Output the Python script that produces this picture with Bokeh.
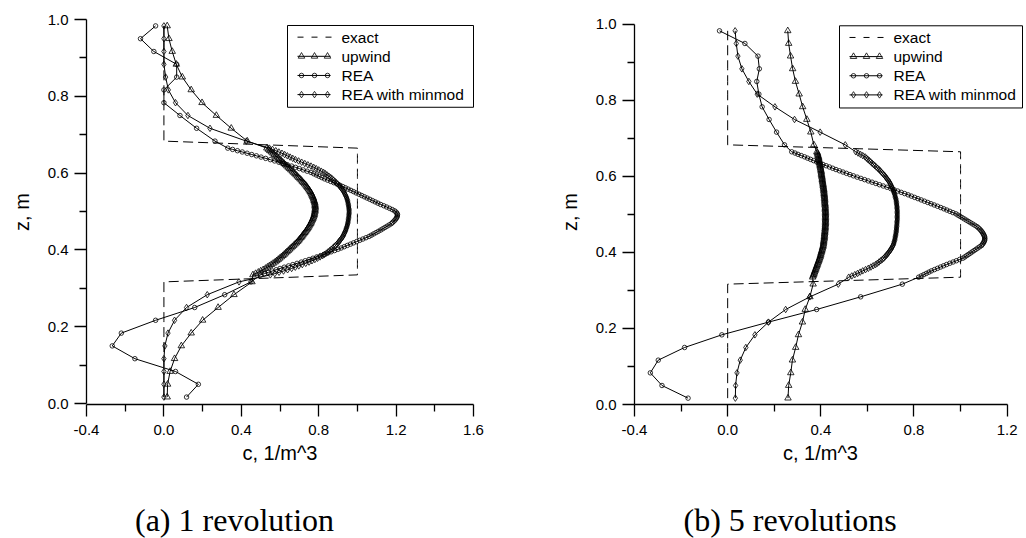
from bokeh.plotting import figure
from bokeh.models import Range1d, FixedTicker, PrintfTickFormatter, Label, Title
from bokeh.layouts import row
from bokeh.embed import file_html
from bokeh.resources import INLINE

# Cell-centre heights (m): coarse cells, refined middle third, coarse cells
z_levels = [
    0.0167, 0.0500, 0.0833, 0.1167, 0.1500, 0.1833, 0.2167, 0.2500, 0.2833, 0.3167,
    0.3350, 0.3383, 0.3417, 0.3450, 0.3483, 0.3517, 0.3550, 0.3583, 0.3617, 0.3650,
    0.3683, 0.3717, 0.3750, 0.3783, 0.3817, 0.3850, 0.3883, 0.3917, 0.3950, 0.3983,
    0.4017, 0.4050, 0.4083, 0.4117, 0.4150, 0.4183, 0.4217, 0.4250, 0.4283, 0.4317,
    0.4350, 0.4383, 0.4417, 0.4450, 0.4483, 0.4517, 0.4550, 0.4583, 0.4617, 0.4650,
    0.4683, 0.4717, 0.4750, 0.4783, 0.4817, 0.4850, 0.4883, 0.4917, 0.4950, 0.4983,
    0.5017, 0.5050, 0.5083, 0.5117, 0.5150, 0.5183, 0.5217, 0.5250, 0.5283, 0.5317,
    0.5350, 0.5383, 0.5417, 0.5450, 0.5483, 0.5517, 0.5550, 0.5583, 0.5617, 0.5650,
    0.5683, 0.5717, 0.5750, 0.5783, 0.5817, 0.5850, 0.5883, 0.5917, 0.5950, 0.5983,
    0.6017, 0.6050, 0.6083, 0.6117, 0.6150, 0.6183, 0.6217, 0.6250, 0.6283, 0.6317,
    0.6350, 0.6383, 0.6417, 0.6450, 0.6483, 0.6517, 0.6550, 0.6583, 0.6617, 0.6650,
    0.6833, 0.7167, 0.7500, 0.7833, 0.8167, 0.8500, 0.8833, 0.9167, 0.9500, 0.9833,
]

# Exact square pulse (1/m^3)
exact = [
    0, 0, 0, 0, 0, 0, 0, 0, 0, 0,
    1, 1, 1, 1, 1, 1, 1, 1, 1, 1,
    1, 1, 1, 1, 1, 1, 1, 1, 1, 1,
    1, 1, 1, 1, 1, 1, 1, 1, 1, 1,
    1, 1, 1, 1, 1, 1, 1, 1, 1, 1,
    1, 1, 1, 1, 1, 1, 1, 1, 1, 1,
    1, 1, 1, 1, 1, 1, 1, 1, 1, 1,
    1, 1, 1, 1, 1, 1, 1, 1, 1, 1,
    1, 1, 1, 1, 1, 1, 1, 1, 1, 1,
    1, 1, 1, 1, 1, 1, 1, 1, 1, 1,
    1, 1, 1, 1, 1, 1, 1, 1, 1, 1,
    0, 0, 0, 0, 0, 0, 0, 0, 0, 0,
]

# (a) after 1 revolution
rev1_upwind = [
    0.017, 0.019, 0.032, 0.055, 0.090, 0.141, 0.200, 0.280, 0.362, 0.455,
    0.460, 0.474, 0.488, 0.500, 0.513, 0.525, 0.535, 0.545, 0.555, 0.565,
    0.575, 0.583, 0.591, 0.599, 0.607, 0.615, 0.622, 0.629, 0.636, 0.643,
    0.650, 0.657, 0.664, 0.671, 0.678, 0.685, 0.691, 0.697, 0.702, 0.708,
    0.713, 0.718, 0.723, 0.728, 0.733, 0.738, 0.742, 0.746, 0.750, 0.754,
    0.758, 0.761, 0.764, 0.767, 0.770, 0.773, 0.775, 0.777, 0.778, 0.780,
    0.781, 0.781, 0.782, 0.782, 0.781, 0.781, 0.780, 0.778, 0.776, 0.774,
    0.772, 0.769, 0.766, 0.763, 0.760, 0.756, 0.752, 0.747, 0.742, 0.738,
    0.733, 0.727, 0.721, 0.715, 0.709, 0.703, 0.696, 0.690, 0.683, 0.677,
    0.670, 0.663, 0.656, 0.649, 0.642, 0.635, 0.628, 0.621, 0.614, 0.607,
    0.600, 0.593, 0.585, 0.578, 0.570, 0.563, 0.555, 0.547, 0.540, 0.532,
    0.431, 0.348, 0.271, 0.197, 0.141, 0.095, 0.064, 0.043, 0.026, 0.017,
]
rev1_rea = [
    0.117, 0.178, 0.060, -0.150, -0.267, -0.220, -0.043, 0.159, 0.314, 0.450,
    0.500, 0.520, 0.540, 0.560, 0.580, 0.600, 0.622, 0.644, 0.666, 0.688,
    0.710, 0.730, 0.750, 0.770, 0.790, 0.810, 0.828, 0.846, 0.864, 0.882,
    0.900, 0.916, 0.932, 0.948, 0.964, 0.980, 0.996, 1.012, 1.028, 1.044,
    1.060, 1.072, 1.084, 1.096, 1.108, 1.120, 1.131, 1.142, 1.153, 1.164,
    1.175, 1.182, 1.189, 1.195, 1.200, 1.204, 1.206, 1.207, 1.205, 1.200,
    1.192, 1.180, 1.166, 1.151, 1.136, 1.120, 1.106, 1.092, 1.078, 1.064,
    1.050, 1.036, 1.022, 1.008, 0.994, 0.980, 0.966, 0.952, 0.938, 0.924,
    0.910, 0.894, 0.878, 0.862, 0.846, 0.830, 0.816, 0.802, 0.788, 0.774,
    0.760, 0.740, 0.720, 0.700, 0.680, 0.660, 0.638, 0.616, 0.594, 0.572,
    0.550, 0.526, 0.502, 0.478, 0.454, 0.430, 0.405, 0.380, 0.355, 0.330,
    0.264, 0.169, 0.083, 0.000, 0.000, 0.066, 0.066, -0.052, -0.121, -0.043,
]
rev1_minmod = [
    0.000, 0.000, 0.000, 0.000, 0.005, 0.021, 0.055, 0.117, 0.224, 0.388,
    0.550, 0.573, 0.595, 0.618, 0.639, 0.660, 0.679, 0.697, 0.715, 0.733,
    0.750, 0.765, 0.780, 0.794, 0.807, 0.820, 0.830, 0.840, 0.849, 0.857,
    0.865, 0.873, 0.880, 0.887, 0.894, 0.900, 0.905, 0.910, 0.915, 0.920,
    0.925, 0.928, 0.931, 0.934, 0.937, 0.940, 0.942, 0.944, 0.946, 0.948,
    0.950, 0.951, 0.952, 0.953, 0.954, 0.955, 0.956, 0.956, 0.957, 0.957,
    0.957, 0.957, 0.956, 0.955, 0.954, 0.953, 0.952, 0.950, 0.949, 0.947,
    0.945, 0.942, 0.939, 0.936, 0.933, 0.930, 0.925, 0.920, 0.915, 0.910,
    0.905, 0.898, 0.891, 0.884, 0.877, 0.870, 0.862, 0.853, 0.844, 0.835,
    0.825, 0.813, 0.800, 0.787, 0.774, 0.760, 0.744, 0.728, 0.712, 0.696,
    0.680, 0.666, 0.652, 0.638, 0.624, 0.610, 0.594, 0.578, 0.561, 0.545,
    0.426, 0.238, 0.124, 0.060, 0.023, 0.009, 0.000, 0.000, 0.000, 0.000,
]

# (b) after 5 revolutions
rev5_upwind = [
    0.259, 0.262, 0.271, 0.278, 0.292, 0.304, 0.321, 0.333, 0.353, 0.367,
    0.365, 0.367, 0.369, 0.371, 0.373, 0.375, 0.377, 0.379, 0.381, 0.383,
    0.385, 0.387, 0.389, 0.391, 0.393, 0.395, 0.397, 0.398, 0.400, 0.401,
    0.403, 0.404, 0.406, 0.407, 0.409, 0.410, 0.411, 0.412, 0.412, 0.413,
    0.414, 0.415, 0.415, 0.416, 0.416, 0.417, 0.417, 0.418, 0.418, 0.419,
    0.419, 0.419, 0.420, 0.420, 0.420, 0.420, 0.420, 0.420, 0.420, 0.420,
    0.420, 0.420, 0.420, 0.419, 0.419, 0.419, 0.419, 0.418, 0.418, 0.417,
    0.417, 0.417, 0.416, 0.416, 0.415, 0.415, 0.414, 0.414, 0.413, 0.413,
    0.412, 0.411, 0.410, 0.410, 0.409, 0.408, 0.407, 0.406, 0.406, 0.405,
    0.404, 0.403, 0.402, 0.402, 0.401, 0.400, 0.399, 0.398, 0.397, 0.396,
    0.395, 0.394, 0.393, 0.392, 0.391, 0.390, 0.388, 0.387, 0.385, 0.383,
    0.370, 0.357, 0.340, 0.322, 0.307, 0.291, 0.279, 0.270, 0.262, 0.258,
]
rev5_rea = [
    -0.170, -0.282, -0.332, -0.298, -0.185, -0.025, 0.175, 0.382, 0.571, 0.750,
    0.820, 0.831, 0.842, 0.853, 0.864, 0.875, 0.888, 0.901, 0.914, 0.927,
    0.940, 0.954, 0.968, 0.982, 0.996, 1.010, 1.018, 1.026, 1.034, 1.042,
    1.050, 1.058, 1.066, 1.074, 1.082, 1.090, 1.094, 1.098, 1.101, 1.103,
    1.104, 1.104, 1.103, 1.101, 1.098, 1.095, 1.091, 1.087, 1.082, 1.076,
    1.070, 1.061, 1.052, 1.043, 1.034, 1.025, 1.016, 1.007, 0.998, 0.989,
    0.980, 0.967, 0.954, 0.941, 0.928, 0.915, 0.901, 0.887, 0.873, 0.859,
    0.845, 0.831, 0.817, 0.803, 0.789, 0.775, 0.760, 0.745, 0.730, 0.715,
    0.700, 0.684, 0.668, 0.652, 0.636, 0.620, 0.604, 0.588, 0.572, 0.556,
    0.540, 0.525, 0.510, 0.495, 0.480, 0.465, 0.451, 0.437, 0.423, 0.409,
    0.395, 0.382, 0.369, 0.356, 0.343, 0.330, 0.316, 0.302, 0.289, 0.275,
    0.244, 0.210, 0.178, 0.148, 0.134, 0.125, 0.136, 0.130, 0.074, -0.035,
]
rev5_minmod = [
    0.033, 0.034, 0.040, 0.054, 0.078, 0.117, 0.175, 0.249, 0.353, 0.475,
    0.520, 0.533, 0.546, 0.558, 0.569, 0.580, 0.592, 0.604, 0.615, 0.625,
    0.635, 0.643, 0.650, 0.657, 0.664, 0.670, 0.675, 0.680, 0.685, 0.689,
    0.693, 0.697, 0.701, 0.704, 0.707, 0.710, 0.712, 0.714, 0.715, 0.717,
    0.718, 0.719, 0.720, 0.721, 0.722, 0.723, 0.724, 0.724, 0.725, 0.725,
    0.726, 0.726, 0.727, 0.727, 0.727, 0.728, 0.728, 0.728, 0.728, 0.728,
    0.728, 0.728, 0.728, 0.728, 0.727, 0.727, 0.727, 0.726, 0.725, 0.725,
    0.724, 0.723, 0.722, 0.720, 0.719, 0.718, 0.716, 0.714, 0.712, 0.710,
    0.708, 0.706, 0.703, 0.700, 0.698, 0.695, 0.691, 0.687, 0.683, 0.679,
    0.675, 0.670, 0.665, 0.660, 0.655, 0.650, 0.644, 0.638, 0.632, 0.626,
    0.620, 0.614, 0.608, 0.602, 0.596, 0.590, 0.580, 0.570, 0.560, 0.550,
    0.505, 0.397, 0.287, 0.203, 0.127, 0.091, 0.061, 0.044, 0.037, 0.032,
]

series_names = ["exact", "upwind", "REA", "REA with minmod"]
x_ticks_a = [-0.4, 0.0, 0.4, 0.8, 1.2, 1.6]
x_minor_a = [-0.2, 0.2, 0.6, 1.0, 1.4]
x_ticks_b = [-0.4, 0.0, 0.4, 0.8, 1.2]
x_minor_b = [-0.2, 0.2, 0.6, 1.0]
y_ticks = [0.0, 0.2, 0.4, 0.6, 0.8, 1.0]
y_minor = [0.1, 0.3, 0.5, 0.7, 0.9]
x_title = "c, 1/m^3"
y_title = "z, m"

SANS = "Liberation Sans"
SERIF = "Liberation Serif"
FIG_W, FIG_H = 513, 538
FRAME_TOP, FRAME_H = 19, 386      # both panels share the same frame box
MARKERS = [("triangle", 6.5), ("circle", 4.5), ("diamond", 6.5)]


def make_panel(upwind, rea, minmod, x_ticks, x_minor, x_end, y_start, y_end,
               frame_left, frame_w, legend_box, xlabel_offset, caption, caption_offset):
    p = figure(width=FIG_W, height=FIG_H,
               x_range=Range1d(-0.4, x_end), y_range=Range1d(y_start, y_end),
               output_backend="svg", toolbar_location=None,
               min_border_left=frame_left, min_border_right=FIG_W - frame_left - frame_w,
               min_border_top=FRAME_TOP, min_border_bottom=FIG_H - FRAME_TOP - FRAME_H)
    p.outline_line_color = None
    p.grid.visible = False
    p.background_fill_color = "white"
    p.border_fill_color = "white"

    xa, ya = p.xaxis[0], p.yaxis[0]
    xa.bounds = (x_ticks[0], x_ticks[-1])
    xa.ticker = FixedTicker(ticks=x_ticks, minor_ticks=x_minor)
    ya.bounds = (y_ticks[0], y_ticks[-1])
    ya.ticker = FixedTicker(ticks=y_ticks, minor_ticks=y_minor)
    for ax in (xa, ya):
        ax.formatter = PrintfTickFormatter(format="%.1f")
        ax.axis_line_color = "black"
        ax.axis_line_width = 1.3
        ax.major_tick_line_color = "black"
        ax.major_tick_line_width = 1.3
        ax.minor_tick_line_color = "black"
        ax.minor_tick_line_width = 1.3
        ax.major_tick_in = 0
        ax.major_tick_out = 12
        ax.minor_tick_in = 0
        ax.minor_tick_out = 7
        ax.major_label_text_font = SANS
        ax.major_label_text_font_size = "15px"
        ax.major_label_text_color = "black"
        ax.axis_label_text_font = SANS
        ax.axis_label_text_font_size = "20px"
        ax.axis_label_text_font_style = "normal"
        ax.axis_label_text_color = "black"
    ya.axis_label = y_title
    xa.major_label_standoff = 8
    ya.major_label_standoff = 6
    ya.axis_label_standoff = 12

    # panels below the axis: x-axis title, an empty gap, then the caption
    p.add_layout(Title(text=x_title, align="left", offset=xlabel_offset, standoff=5,
                       text_font=SANS, text_font_size="20px", text_font_style="normal",
                       text_color="black"), "below")
    p.add_layout(Title(text=" ", align="left", standoff=28, text_font=SANS,
                       text_font_size="2px", text_color="white"), "below")
    p.add_layout(Title(text=caption, align="left", offset=caption_offset, standoff=2,
                       text_font=SERIF, text_font_size="32px", text_font_style="normal",
                       text_color="black"), "below")

    # profiles
    p.line(exact, z_levels, line_color="black", line_width=1, line_dash="10 5")
    for vals, (marker, size) in zip((upwind, rea, minmod), MARKERS):
        p.line(vals, z_levels, line_color="black", line_width=1)
        p.scatter(vals, z_levels, marker=marker, size=size, fill_color=None,
                  line_color="black", line_width=0.8)

    # legend, laid out in frame pixels (measured from the frame's top-left)
    def sx(px):
        return -0.4 + px * (x_end + 0.4) / frame_w

    def sy(py):
        return y_end - py * (y_end - y_start) / FRAME_H

    bl, bt, br, bb = legend_box
    p.quad(left=[sx(bl)], right=[sx(br)], top=[sy(bt)], bottom=[sy(bb)],
           fill_color="white", line_color="black", line_width=1)
    for i, name in enumerate(series_names):
        yy = sy(bt + 11.7 + 19.2 * i)
        if i == 0:
            p.line([sx(bl + 10), sx(bl + 44)], [yy, yy], line_color="black",
                   line_width=1, line_dash="6 8")
        else:
            marker, size = MARKERS[i - 1]
            p.line([sx(bl + 10), sx(bl + 43)], [yy, yy], line_color="black", line_width=1)
            p.scatter([sx(bl + 14), sx(bl + 27), sx(bl + 40)], [yy, yy, yy],
                      marker=marker, size=size, fill_color=None,
                      line_color="black", line_width=0.8)
        p.add_layout(Label(x=sx(bl + 54), y=yy, text=name, text_font=SANS,
                           text_font_size="15.5px", text_baseline="middle",
                           text_color="black"))
    return p


left = make_panel(rev1_upwind, rev1_rea, rev1_minmod, x_ticks_a, x_minor_a,
                  x_end=1.636, y_start=-0.0026, y_end=1.0,
                  frame_left=86, frame_w=394,
                  legend_box=(201, 6, 387, 88), xlabel_offset=156,
                  caption="(a) 1 revolution", caption_offset=48.5)
right = make_panel(rev5_upwind, rev5_rea, rev5_minmod, x_ticks_b, x_minor_b,
                   x_end=1.2745, y_start=0.0, y_end=1.0131,
                   frame_left=121, frame_w=390,
                   legend_box=(205, 6.3, 388, 88.7), xlabel_offset=148.5,
                   caption="(b) 5 revolutions", caption_offset=49)

layout = row(left, right)
open("out.html", "w").write(file_html(layout, INLINE))
